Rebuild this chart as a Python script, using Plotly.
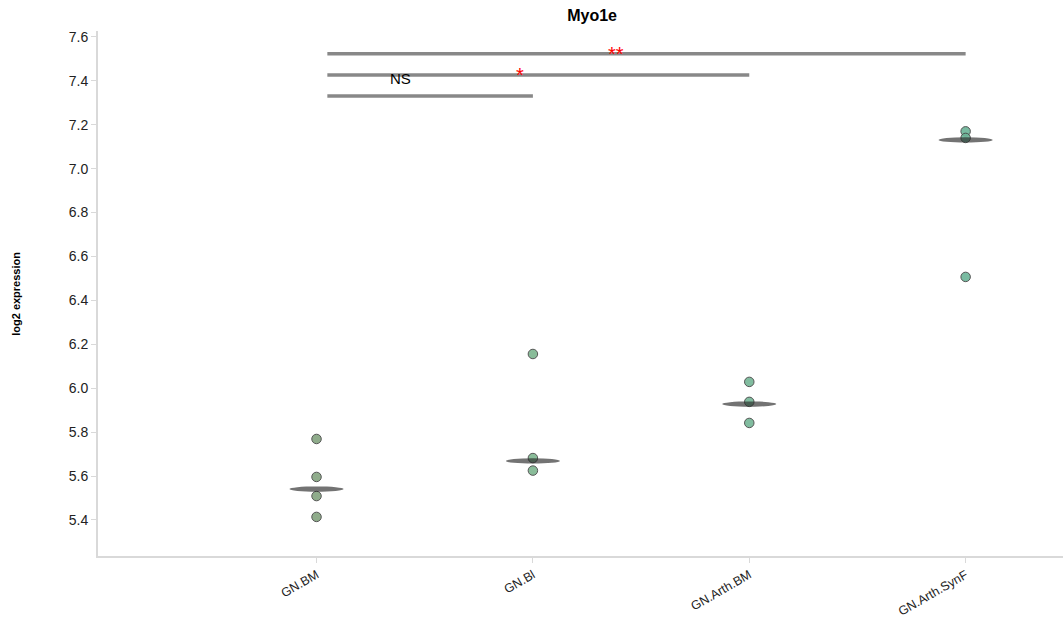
import plotly.graph_objects as go

categories = ["GN.BM", "GN.Bl", "GN.Arth.BM", "GN.Arth.SynF"]
values = [
    [5.769, 5.596, 5.509, 5.414],
    [6.156, 5.682, 5.625],
    [6.029, 5.938, 5.842],
    [7.170, 7.140, 6.507],
]
centers = [5.541, 5.669, 5.928, 7.131]
colors = ["#83a47f", "#7db58f", "#74b595", "#6bb497"]

brackets = [  # (start, end, y, label, label x, label y, color, size)
    (0.05, 3, 7.523, "**", 1.385, 7.523, "red", 20),
    (0.05, 2, 7.427, "*", 0.94, 7.427, "red", 20),
    (0.05, 1, 7.331, "NS", 0.39, 7.41, "black", 15),
]

fig = go.Figure()
for i, (cat, vals) in enumerate(zip(categories, values)):
    fig.add_trace(go.Scatter(
        x=[i] * len(vals), y=vals, mode="markers",
        marker=dict(size=9.5, color=colors[i], opacity=0.9,
                    line=dict(color="#444", width=1)),
        showlegend=False, hoverinfo="y"))
    fig.add_shape(type="circle", xref="x", yref="y",
                  x0=i - 0.125, x1=i + 0.125,
                  y0=centers[i] - 0.012, y1=centers[i] + 0.012,
                  fillcolor="rgba(40,40,40,0.65)", line=dict(width=0))

for x0, x1, y, lab, lx, ly, col, sz in brackets:
    fig.add_trace(go.Scatter(x=[x0, x1], y=[y, y], mode="lines",
                             line=dict(color="#888888", width=3.5),
                             showlegend=False, hoverinfo="skip"))
    fig.add_annotation(x=lx, y=ly, text=lab, showarrow=False,
                       font=dict(color=col, size=sz, family="Arial"))

fig.add_annotation(xref="paper", yref="paper", x=-0.094, y=0.5,
                   text="<b>log2 expression</b>", textangle=-90, showarrow=False,
                   font=dict(size=11, color="black", family="Arial"))

fig.update_layout(
    width=1063, height=619,
    margin=dict(l=98, r=0, t=31, b=63),
    plot_bgcolor="white", paper_bgcolor="white",
    title=dict(text="<b>Myo1e</b>", x=0.557, xanchor="center", y=0.975,
               yanchor="middle", font=dict(size=16, color="black", family="Arial")),
    font=dict(family="Arial", color="#222"),
)
fig.update_xaxes(
    range=[-1.01, 3.45], tickmode="array", tickvals=list(range(len(categories))),
    ticktext=categories, tickangle=-30, showgrid=False, zeroline=False,
    showline=True, linecolor="#d9d9d9", linewidth=2, automargin=False,
    ticks="outside", ticklen=5, tickcolor="#d9d9d9",
    tickfont=dict(size=12.5, color="#222"),
)
fig.update_yaxes(
    range=[5.236, 7.627], tickvals=[5.4, 5.6, 5.8, 6.0, 6.2, 6.4, 6.6, 6.8, 7.0, 7.2, 7.4, 7.6],
    tickformat=".1f", showgrid=False, zeroline=False, automargin=False,
    showline=True, linecolor="#d9d9d9", linewidth=2,
    ticks="outside", ticklen=5, tickcolor="#d9d9d9",
    tickfont=dict(size=14, color="#222"),
)
fig.write_html("out.html")
